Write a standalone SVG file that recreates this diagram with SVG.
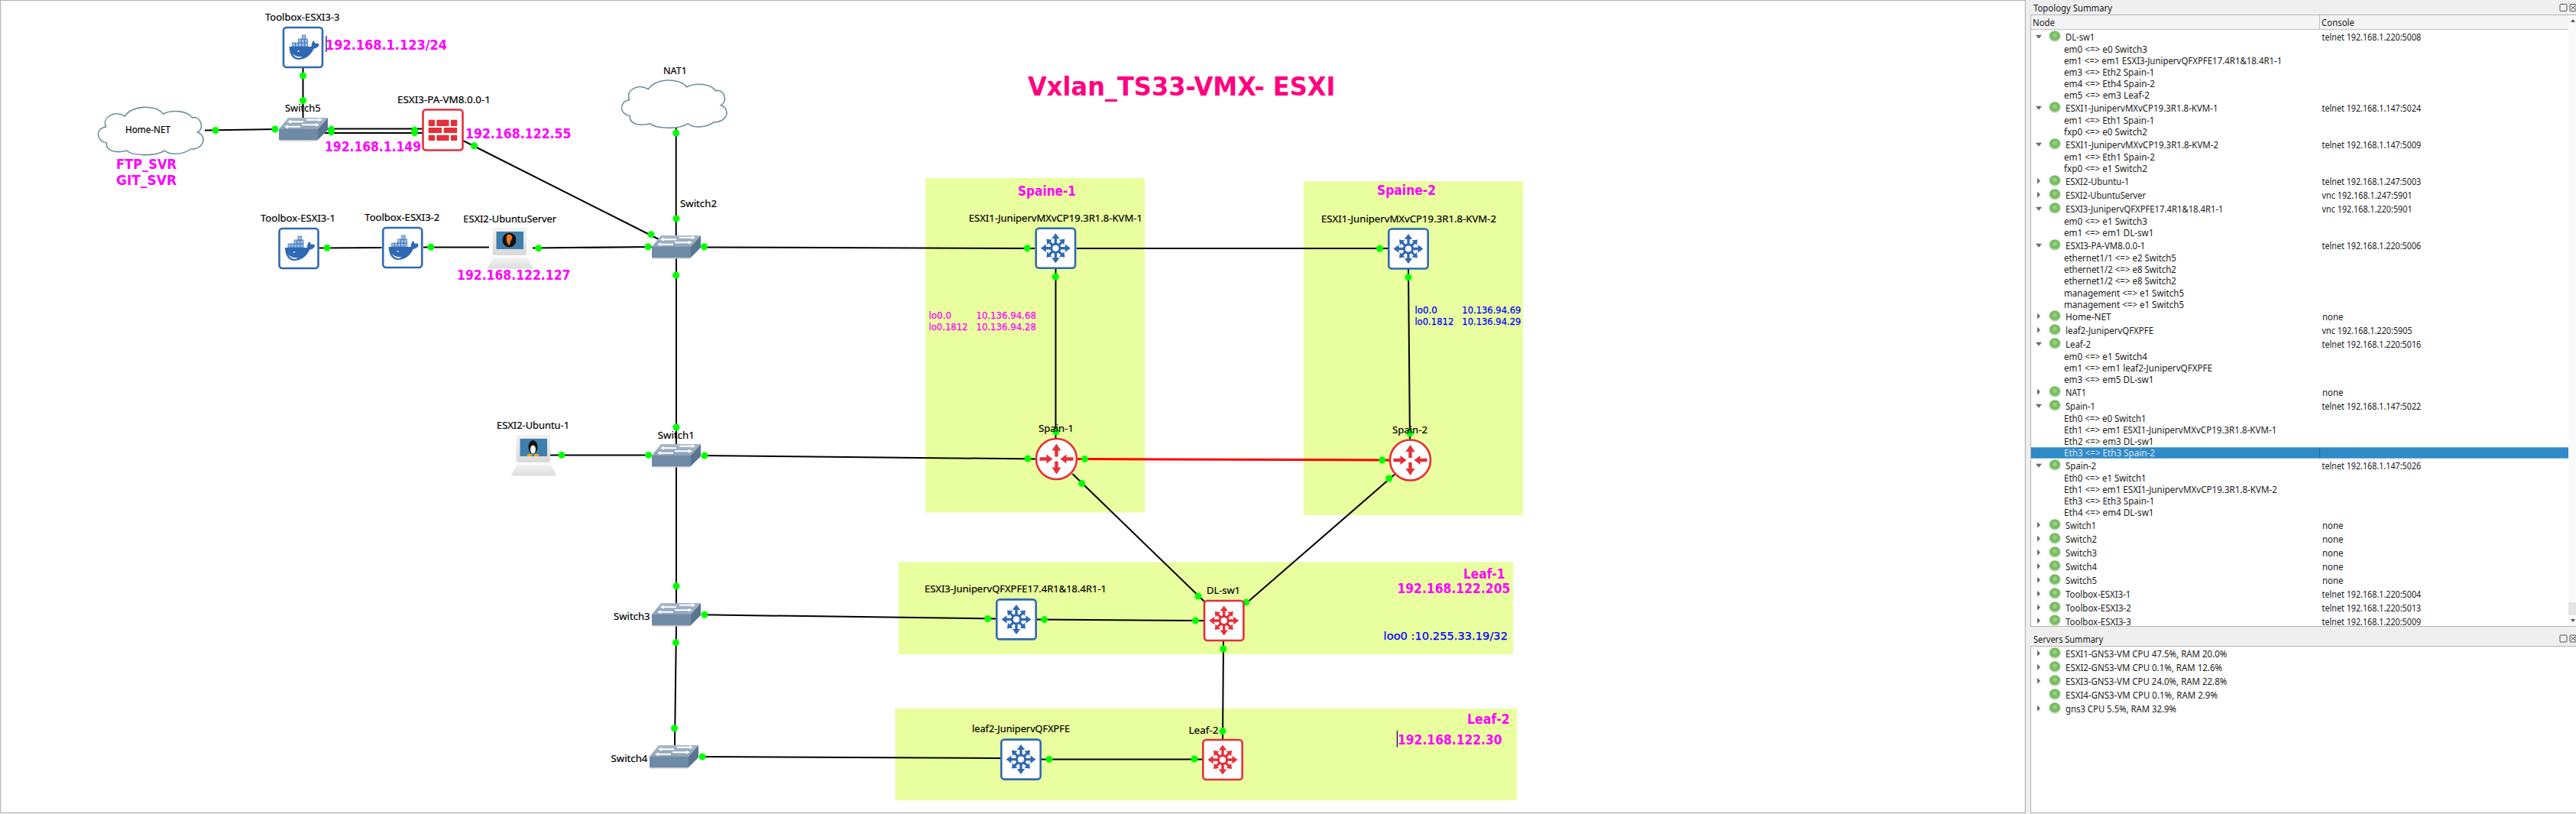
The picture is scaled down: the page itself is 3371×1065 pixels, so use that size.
<svg xmlns="http://www.w3.org/2000/svg" width="3371" height="1065" viewBox="0 0 3371 1065">
<style>
text{white-space:pre}
.n{font:13px "Noto Sans","Liberation Sans",sans-serif;fill:#000;stroke:#000;stroke-width:.2}
.m{font:bold 17px "DejaVu Sans","Liberation Sans",sans-serif;fill:#f0f}
.lo{font:12.5px "DejaVu Sans","Liberation Sans",sans-serif;stroke:currentColor;stroke-width:.25}
.t{font:12.5px "Noto Sans","Open Sans",sans-serif;fill:#1a1a1a}
.zone{fill:#e9fe9f}
.lk{stroke:#000;stroke-width:2;fill:none}
.dot{fill:#0f0}
.blue{color:#2f69b4}
.red{color:#e4303a}
.box{fill:#fff;stroke:currentColor;stroke-width:2.6}
.cl{fill:#fff;stroke:#6f9098;stroke-width:1.6}
.pan{fill:#fff;stroke:#b4b4b4;stroke-width:1}
</style>
<defs>
<linearGradient id="mon" x1="0" y1="0" x2="0" y2="1"><stop offset="0" stop-color="#f2f2f2"/><stop offset="1" stop-color="#d9d9d9"/></linearGradient>
<linearGradient id="top" x1="0" y1="0" x2="0" y2="1"><stop offset="0" stop-color="#a9b9ca"/><stop offset="1" stop-color="#8ca2b8"/></linearGradient>
<radialGradient id="ledg" cx="50%" cy="40%" r="55%"><stop offset="0" stop-color="#a8d88c"/><stop offset=".6" stop-color="#6fb85a"/><stop offset=".8" stop-color="#8cc47c"/><stop offset="1" stop-color="#dfe8dc"/></radialGradient>
<path id="arm" d="M-1.7-6V-12.5H-5.2L0-19.5 5.2-12.5H1.7V-6Z" fill="currentColor"/>
<path id="armd" d="M-1.6-6V-11H-4.6L0-17 4.6-11H1.6V-6Z" fill="currentColor"/>
<g id="mls">
<rect class="box" x="-25.7" y="-26" width="51.4" height="52" rx="4"/>
<circle r="5.6" fill="none" stroke="currentColor" stroke-width="3"/>
<use href="#arm"/><use href="#arm" transform="rotate(90)"/><use href="#arm" transform="rotate(180)"/><use href="#arm" transform="rotate(270)"/>
<use href="#armd" transform="rotate(45)"/><use href="#armd" transform="rotate(135)"/><use href="#armd" transform="rotate(225)"/><use href="#armd" transform="rotate(315)"/>
</g>
<g id="router">
<circle class="box" r="26.5"/>
<path fill="currentColor" d="M-2.2-3V-11H-6L0-20 6-11H2.2V-3ZM-2.2 3V11H-6L0 20 6 11H2.2V3ZM-22-2.2H-13V-6L-5 0-13 6V2.2H-22ZM22-2.2H13V-6L5 0 13 6V2.2H22Z"/>
</g>
<g id="docker">
<rect class="box" x="-25.5" y="-26" width="51" height="52" rx="4"/>
<g fill="#9dbce0" stroke="currentColor" stroke-width=".7">
<rect x="-14" y="-6" width="4" height="5"/><rect x="-10" y="-6" width="4" height="5"/><rect x="-6" y="-6" width="4" height="5"/><rect x="-2" y="-6" width="4" height="5"/><rect x="2" y="-6" width="4" height="5"/>
<rect x="-6" y="-11" width="4" height="5"/><rect x="-2" y="-11" width="4" height="5"/><rect x="2" y="-11" width="4" height="5"/>
<rect x="-1" y="-16" width="4.5" height="5"/>
</g>
<path fill="currentColor" d="M-18-1H11C11-5 13-9 14-9 15-7 16-5 17-5 19-6 21-5 21-3 20 0 17 1 14 2 10 11 2 16-6 16-14 16-18 8-18-1Z"/>
<path fill="#fff" d="M-14 8C-11 11-7 13-1 12-4 15-10 15-14 8Z"/>
<circle cx="-6" cy="5" r="1" fill="#fff"/>
</g>
<g id="switch">
<path d="M-32 1-20-14H32L19 1Z" fill="url(#top)"/>
<path d="M-32 1H19V15H-32Z" fill="#6f8aa5"/>
<path d="M19 1 32-14V2L19 15Z" fill="#5a7590"/>
<path d="M-32 15H19L18 16.500H-31Z" fill="#c4c4c4"/>
<path fill="#fff" d="M0-9.700H-16V-11.200L-21-8.700-16-6.200V-7.700H0ZM4-12.300H20V-13.800L25-11.300 20-8.800V-10.300H4ZM-4-3.200H-20V-4.700L-25-2.200-20 .3V-1.200H-4ZM-2-5.700H16V-7.200L21-4.700 16-2.200V-3.700H-2Z"/>
</g>
<path id="cloud" class="cl" d="M12 46C-2 44-3 27 11 25 6 12 22 3 36 11 44-3 76-5 86 8 98 2 118 4 124 13 136 10 140 28 131 32 145 38 138 55 122 54 112 62 94 62 88 56 76 64 46 63 38 56 24 60 10 56 12 46Z"/>
<g id="pc">
<path d="M-22 11.500H22.500L30 26.500H-30Z" fill="url(#mon)" opacity=".9"/>
<rect x="-23" y="-27" width="44.500" height="36" rx="3" fill="url(#mon)"/>
<rect x="-18" y="-22" width="35.500" height="23" fill="#3f7fae"/>
</g>
<g id="led"><ellipse rx="7.600" ry="7.400" fill="url(#ledg)"/></g>
<path id="open" d="M-4-2H4L0 3Z" fill="#6a6a6a"/>
<path id="closed" d="M-2-4 2 0-2 4Z" fill="#6a6a6a"/>
</defs>

<rect width="3371" height="1065" fill="#fff"/>
<g id="canvas">
<path d="M0 .5H2650.500V1063.500H.5V.5" fill="none" stroke="#b8b8b8" stroke-width="1.500"/>
</g>

<g id="zones">
<rect class="zone" x="1211" y="233" width="287" height="437.500"/>
<rect class="zone" x="1706" y="237" width="287" height="437"/>
<rect class="zone" x="1176" y="735.500" width="804" height="120.500"/>
<rect class="zone" x="1171.500" y="927" width="813.500" height="120"/>
</g>

<g id="connectors">
<path class="lk" d="M268 170.500 364 169"/>
<path class="lk" d="M396.500 89V160"/>
<path class="lk" d="M425 168.500H553M425 174H553"/>
<path class="lk" d="M606 184 862 313"/>
<path class="lk" d="M884.700 167V310"/>
<path class="lk" d="M418 324.500 499.500 324"/>
<path class="lk" d="M554 323.500H640"/>
<path class="lk" d="M697 324.500 853 323"/>
<path class="lk" d="M885 337V581"/>
<path class="lk" d="M918 323.500 1354 325"/>
<path class="lk" d="M1409 325H1816"/>
<path class="lk" d="M1381.500 352V574"/>
<path class="lk" d="M1843 352 1845 576"/>
<path class="lk" d="M720 595.400H853"/>
<path class="lk" d="M918 596 1355 600.500"/>
<path d="M1410 600.500 1818 602" stroke="#f00" stroke-width="3" fill="none"/>
<path class="lk" d="M885 610V789"/>
<path class="lk" d="M885 818 883 975"/>
<path class="lk" d="M918 804.300 1303 809.500"/>
<path class="lk" d="M1357 810.500 1575 812"/>
<path class="lk" d="M915.500 990 1309 992"/>
<path class="lk" d="M1363 993.400 1573 993.500"/>
<path class="lk" d="M1403.500 620 1576 787"/>
<path class="lk" d="M1825 620.800 1630 790"/>
<path class="lk" d="M1601 839 1600 967"/>
<g class="dot">
<circle cx="282" cy="170.500" r="4.500"/><circle cx="360" cy="169" r="4.500"/>
<circle cx="396.500" cy="99" r="4.500"/><circle cx="396.500" cy="131.500" r="4.500"/>
<ellipse cx="433.600" cy="171" rx="4.500" ry="6.500"/><ellipse cx="542.500" cy="172" rx="4.500" ry="6.500"/>
<circle cx="620.500" cy="190.700" r="4.500"/><circle cx="852" cy="306.700" r="4.500"/>
<circle cx="884.700" cy="174" r="4.500"/><circle cx="885" cy="286" r="4.500"/>
<circle cx="848" cy="322.700" r="4.500"/><circle cx="921.500" cy="322.700" r="4.500"/><circle cx="884.700" cy="360" r="4.500"/>
<circle cx="428" cy="324.300" r="4.500"/><circle cx="563.800" cy="323.300" r="4.500"/><circle cx="704.700" cy="324.700" r="4.500"/>
<circle cx="885" cy="559" r="4.500"/><circle cx="735" cy="595.400" r="4.500"/><circle cx="848.700" cy="595.400" r="4.500"/><circle cx="922" cy="596" r="4.500"/>
<circle cx="1345" cy="600" r="4.500"/><circle cx="1382" cy="565" r="4.500"/><circle cx="1419.500" cy="600.600" r="4.500"/><circle cx="1415.700" cy="632.600" r="4.500"/>
<circle cx="1808.700" cy="602" r="4.500"/><circle cx="1845" cy="567" r="4.500"/><circle cx="1817.600" cy="626" r="4.500"/>
<circle cx="1344.300" cy="324.700" r="4.500"/><circle cx="1381.300" cy="362" r="4.500"/>
<circle cx="1805.500" cy="325.300" r="4.500"/><circle cx="1843" cy="362.700" r="4.500"/>
<circle cx="885" cy="766.800" r="4.500"/><circle cx="922" cy="804.300" r="4.500"/><circle cx="884.400" cy="840.800" r="4.500"/>
<circle cx="1292.600" cy="809.500" r="4.500"/><circle cx="1366.600" cy="810.600" r="4.500"/>
<circle cx="1564.400" cy="812" r="4.500"/><circle cx="1568" cy="780" r="4.500"/><circle cx="1630.700" cy="788" r="4.500"/><circle cx="1600.800" cy="849" r="4.500"/>
<circle cx="882.500" cy="952.700" r="4.500"/><circle cx="919" cy="990" r="4.500"/>
<circle cx="1373" cy="993.400" r="4.500"/><circle cx="1563" cy="993" r="4.500"/><circle cx="1600" cy="956.600" r="4.500"/>
</g>
</g>

<g id="node-home-net"><use href="#cloud" transform="translate(127.500 141)"/><text class="n" x="164" y="173.500" textLength="59" lengthAdjust="spacingAndGlyphs">Home-NET</text></g>
<g id="node-nat1"><use href="#cloud" transform="translate(812.500 105.700)"/><text class="n" x="868" y="97.200" textLength="31" lengthAdjust="spacingAndGlyphs">NAT1</text></g>
<g id="node-toolbox3" class="blue"><use href="#docker" x="396.500" y="62"/><text class="n" x="347" y="27.200" textLength="97.500" lengthAdjust="spacingAndGlyphs">Toolbox-ESXI3-3</text></g>
<g id="node-switch5"><use href="#switch" x="397" y="168"/><text class="n" x="373" y="146.200" textLength="46.600" lengthAdjust="spacingAndGlyphs">Switch5</text></g>
<g id="node-pa" class="red"><rect class="box" x="553.500" y="143.500" width="52" height="53" rx="4"/>
<path fill="currentColor" d="M560.700 156.700H569V165H560.700ZM571.400 156.700H587.500V165H571.400ZM590 156.700H598.200V165H590ZM560.700 167H578V174H560.700ZM580.700 167H598.200V174H580.700ZM560.700 176.700H569V184H560.700ZM571.400 176.700H587.500V184H571.400ZM590 176.700H598.200V184H590Z"/>
<text class="n" x="520" y="135.200" textLength="122" lengthAdjust="spacingAndGlyphs">ESXI3-PA-VM8.0.0-1</text></g>
<g id="node-toolbox1" class="blue"><use href="#docker" x="391" y="325"/><text class="n" x="341" y="289.800" textLength="98" lengthAdjust="spacingAndGlyphs">Toolbox-ESXI3-1</text></g>
<g id="node-toolbox2" class="blue"><use href="#docker" x="526.700" y="324"/><text class="n" x="477.300" y="288.800" textLength="98" lengthAdjust="spacingAndGlyphs">Toolbox-ESXI3-2</text></g>
<g id="node-ubuntuserver"><use href="#pc" x="667.500" y="325"/>
<ellipse cx="666.500" cy="314" rx="9" ry="9.500" fill="#111"/><path d="M664 307C670 306 672 311 669 314 667 317 668 320 666 321 662 316 662 311 664 307Z" fill="#f07a1e"/>
<text class="n" x="606.300" y="290.800" textLength="121.700" lengthAdjust="spacingAndGlyphs">ESXI2-UbuntuServer</text></g>
<g id="node-switch2"><use href="#switch" x="885" y="322"/><text class="n" x="890" y="271.200" textLength="48" lengthAdjust="spacingAndGlyphs">Switch2</text></g>
<g id="node-ubuntu1"><use href="#pc" x="698.500" y="596"/>
<ellipse cx="697.500" cy="585" rx="6" ry="9" fill="#111"/><ellipse cx="697.500" cy="588" rx="3.500" ry="5.500" fill="#fff"/><path d="M690 594H696V597H690ZM699 594H705V597H699Z" fill="#f5a810"/>
<text class="n" x="650" y="561" textLength="95" lengthAdjust="spacingAndGlyphs">ESXI2-Ubuntu-1</text></g>
<g id="node-switch1"><use href="#switch" x="885" y="595"/><text class="n" x="860.800" y="574.200" textLength="47.900" lengthAdjust="spacingAndGlyphs">Switch1</text></g>
<g id="node-switch3"><use href="#switch" x="885" y="803"/><text class="n" x="803" y="810.900" textLength="47.600" lengthAdjust="spacingAndGlyphs">Switch3</text></g>
<g id="node-switch4"><use href="#switch" x="882" y="989"/><text class="n" x="799.600" y="996.500" textLength="47.800" lengthAdjust="spacingAndGlyphs">Switch4</text></g>
<g id="node-kvm1" class="blue"><use href="#mls" x="1381.400" y="324.800"/><text class="n" x="1267.700" y="290.200" textLength="227.300" lengthAdjust="spacingAndGlyphs">ESXI1-JunipervMXvCP19.3R1.8-KVM-1</text></g>
<g id="node-kvm2" class="blue"><use href="#mls" x="1843" y="325.500"/><text class="n" x="1729" y="291.200" textLength="229" lengthAdjust="spacingAndGlyphs">ESXI1-JunipervMXvCP19.3R1.8-KVM-2</text></g>
<g id="node-spain1" class="red"><use href="#router" x="1382.500" y="600.500"/><text class="n" x="1359" y="565.200" textLength="46" lengthAdjust="spacingAndGlyphs">Spain-1</text></g>
<g id="node-spain2" class="red"><use href="#router" x="1845.500" y="602"/><text class="n" x="1822" y="566.900" textLength="46" lengthAdjust="spacingAndGlyphs">Spain-2</text></g>
<g id="node-qfx" class="blue"><use href="#mls" x="1330" y="810.400"/><text class="n" x="1210" y="775.100" textLength="238" lengthAdjust="spacingAndGlyphs">ESXI3-JunipervQFXPFE17.4R1&amp;18.4R1-1</text></g>
<g id="node-dlsw1" class="red"><use href="#mls" x="1601.700" y="812"/><text class="n" x="1579" y="777.200" textLength="44" lengthAdjust="spacingAndGlyphs">DL-sw1</text></g>
<g id="node-leaf2qfx" class="blue"><use href="#mls" x="1336" y="993.600"/><text class="n" x="1272" y="958.300" textLength="128" lengthAdjust="spacingAndGlyphs">leaf2-JunipervQFXPFE</text></g>
<g id="node-leaf2" class="red"><use href="#mls" x="1600" y="994"/><text class="n" x="1555.500" y="960" textLength="39" lengthAdjust="spacingAndGlyphs">Leaf-2</text></g>

<g id="notes">
<text x="1345" y="125" textLength="402.500" lengthAdjust="spacingAndGlyphs" style="font:bold 34px 'DejaVu Sans','Liberation Sans',sans-serif;fill:#ff0080">Vxlan_TS33-VMX- ESXI</text>
<path d="M427 47V68M1828.400 956V977.800" stroke="#000060" stroke-width="1.200"/>
<text class="m" x="426" y="65" textLength="159" lengthAdjust="spacingAndGlyphs">192.168.1.123/24</text>
<text class="m" x="609" y="181" textLength="138.500" lengthAdjust="spacingAndGlyphs">192.168.122.55</text>
<text class="m" x="425" y="198" textLength="126" lengthAdjust="spacingAndGlyphs">192.168.1.149</text>
<text class="m" x="152" y="221" textLength="79" lengthAdjust="spacingAndGlyphs">FTP_SVR</text>
<text class="m" x="152" y="242" textLength="79" lengthAdjust="spacingAndGlyphs">GIT_SVR</text>
<text class="m" x="598" y="366.300" textLength="148.400" lengthAdjust="spacingAndGlyphs">192.168.122.127</text>
<text class="m" x="1332" y="256" textLength="76" lengthAdjust="spacingAndGlyphs">Spaine-1</text>
<text class="m" x="1802" y="255.300" textLength="77" lengthAdjust="spacingAndGlyphs">Spaine-2</text>
<text class="m" x="1915" y="756.500" textLength="54.400" lengthAdjust="spacingAndGlyphs">Leaf-1</text>
<text class="m" x="1828.400" y="775.600" textLength="148" lengthAdjust="spacingAndGlyphs">192.168.122.205</text>
<text class="m" x="1920" y="946.600" textLength="55.800" lengthAdjust="spacingAndGlyphs">Leaf-2</text>
<text class="m" x="1829" y="973.700" textLength="136.600" lengthAdjust="spacingAndGlyphs">192.168.122.30</text>
<g fill="#f0f" color="#f0f">
<text class="lo" x="1215.500" y="417" textLength="29.500" lengthAdjust="spacingAndGlyphs">lo0.0</text>
<text class="lo" x="1277.400" y="417" textLength="78.600" lengthAdjust="spacingAndGlyphs">10.136.94.68</text>
<text class="lo" x="1215.500" y="432" textLength="51" lengthAdjust="spacingAndGlyphs">lo0.1812</text>
<text class="lo" x="1277.400" y="432" textLength="78.600" lengthAdjust="spacingAndGlyphs">10.136.94.28</text>
</g>
<g fill="#00f" color="#00f">
<text class="lo" x="1851.400" y="410" textLength="29.500" lengthAdjust="spacingAndGlyphs">lo0.0</text>
<text class="lo" x="1913.300" y="410" textLength="77.100" lengthAdjust="spacingAndGlyphs">10.136.94.69</text>
<text class="lo" x="1851.400" y="425" textLength="51" lengthAdjust="spacingAndGlyphs">lo0.1812</text>
<text class="lo" x="1913.300" y="425" textLength="77.100" lengthAdjust="spacingAndGlyphs">10.136.94.29</text>
<text class="lo" x="1810.600" y="837" textLength="162.400" lengthAdjust="spacingAndGlyphs" style="font-size:14px">loo0 :10.255.33.19/32</text>
</g>
</g>

<g id="panel">
<rect x="2651" y="0" width="720" height="1065" fill="#efefef"/>
<rect class="pan" x="2657.500" y="19.500" width="714" height="800"/>
<rect class="pan" x="2657.500" y="845.500" width="714" height="218"/>
<rect x="2658" y="20" width="703" height="18" fill="#f4f4f4"/>
<path d="M2658 38.500H3361M3035.500 20V38" stroke="#c0c0c0" fill="none"/>
<rect x="3361" y="20" width="10" height="799" fill="#fafafa"/>
<rect x="3361" y="788" width="10" height="17" fill="#e4e4e4"/>
<path d="M3364 29H3370L3367 25ZM3364 810H3370L3367 814Z" fill="#555"/>
<g fill="none" stroke="#555"><rect x="3350" y="5.500" width="9" height="9" rx="1"/><rect x="3363" y="5.500" width="8" height="9" rx="1"/><path d="M3364.500 7.500 3370 12.500M3370 7.500 3364.500 12.500"/></g>
<g fill="none" stroke="#555"><rect x="3350" y="831" width="9" height="9" rx="1"/><rect x="3363" y="831" width="8" height="9" rx="1"/><path d="M3364.500 833 3370 838M3370 833 3364.500 838"/></g>
<rect x="2658" y="585.300" width="703" height="14.400" fill="#2f8ac8"/>
<path d="M3035.500 585.500V599.500" stroke="#1f6ea8"/>
<text class="t" x="2661" y="14.500" textLength="103" lengthAdjust="spacingAndGlyphs">Topology Summary</text>
<text class="t" x="2660" y="34" textLength="29" lengthAdjust="spacingAndGlyphs">Node</text>
<text class="t" x="3038" y="34" textLength="43" lengthAdjust="spacingAndGlyphs">Console</text>
<text class="t" x="2661" y="840.500" textLength="91" lengthAdjust="spacingAndGlyphs">Servers Summary</text>

<g id="leds">
<use href="#led" x="2689" y="47.700"/><use href="#led" x="2689" y="140.700"/><use href="#led" x="2689" y="188.700"/><use href="#led" x="2689" y="236.700"/><use href="#led" x="2689" y="254.700"/><use href="#led" x="2689" y="272.700"/><use href="#led" x="2689" y="320.700"/><use href="#led" x="2689" y="413.700"/><use href="#led" x="2689" y="431.700"/><use href="#led" x="2689" y="449.700"/><use href="#led" x="2689" y="512.700"/><use href="#led" x="2689" y="530.700"/><use href="#led" x="2689" y="608.700"/><use href="#led" x="2689" y="686.700"/><use href="#led" x="2689" y="704.700"/><use href="#led" x="2689" y="722.700"/><use href="#led" x="2689" y="740.700"/><use href="#led" x="2689" y="758.700"/><use href="#led" x="2689" y="776.700"/><use href="#led" x="2689" y="794.700"/><use href="#led" x="2689" y="812"/>
<use href="#led" x="2689" y="854.700"/><use href="#led" x="2689" y="872.700"/><use href="#led" x="2689" y="890.700"/><use href="#led" x="2689" y="908.700"/><use href="#led" x="2689" y="926.700"/>
</g>
<g id="toggles">
<use href="#open" x="2668" y="47.700"/><use href="#open" x="2668" y="140.700"/><use href="#open" x="2668" y="188.700"/><use href="#closed" x="2668" y="236.700"/><use href="#closed" x="2668" y="254.700"/><use href="#open" x="2668" y="272.700"/><use href="#open" x="2668" y="320.700"/><use href="#closed" x="2668" y="413.700"/><use href="#closed" x="2668" y="431.700"/><use href="#open" x="2668" y="449.700"/><use href="#closed" x="2668" y="512.700"/><use href="#open" x="2668" y="530.700"/><use href="#open" x="2668" y="608.700"/><use href="#closed" x="2668" y="686.700"/><use href="#closed" x="2668" y="704.700"/><use href="#closed" x="2668" y="722.700"/><use href="#closed" x="2668" y="740.700"/><use href="#closed" x="2668" y="758.700"/><use href="#closed" x="2668" y="776.700"/><use href="#closed" x="2668" y="794.700"/><use href="#closed" x="2668" y="812"/>
<use href="#closed" x="2668" y="854.700"/><use href="#closed" x="2668" y="872.700"/><use href="#closed" x="2668" y="890.700"/><use href="#closed" x="2668" y="926.700"/>
</g>
<g id="tree">
<text class="t" x="2703" y="53.200" textLength="38.200" lengthAdjust="spacingAndGlyphs">DL-sw1</text>
<text class="t" x="2701" y="69.200" textLength="109" lengthAdjust="spacingAndGlyphs">em0 &lt;=&gt; e0 Switch3</text>
<text class="t" x="2701" y="84.200" textLength="285.300" lengthAdjust="spacingAndGlyphs">em1 &lt;=&gt; em1 ESXI3-JunipervQFXPFE17.4R1&amp;18.4R1-1</text>
<text class="t" x="2701" y="99.200" textLength="118.400" lengthAdjust="spacingAndGlyphs">em3 &lt;=&gt; Eth2 Spain-1</text>
<text class="t" x="2701" y="114.200" textLength="118.900" lengthAdjust="spacingAndGlyphs">em4 &lt;=&gt; Eth4 Spain-2</text>
<text class="t" x="2701" y="129.200" textLength="112" lengthAdjust="spacingAndGlyphs">em5 &lt;=&gt; em3 Leaf-2</text>
<text class="t" x="2703" y="146.200" textLength="199.500" lengthAdjust="spacingAndGlyphs">ESXI1-JunipervMXvCP19.3R1.8-KVM-1</text>
<text class="t" x="2701" y="162.200" textLength="118.400" lengthAdjust="spacingAndGlyphs">em1 &lt;=&gt; Eth1 Spain-1</text>
<text class="t" x="2701" y="177.200" textLength="109" lengthAdjust="spacingAndGlyphs">fxp0 &lt;=&gt; e0 Switch2</text>
<text class="t" x="2703" y="194.200" textLength="200" lengthAdjust="spacingAndGlyphs">ESXI1-JunipervMXvCP19.3R1.8-KVM-2</text>
<text class="t" x="2701" y="210.200" textLength="118.900" lengthAdjust="spacingAndGlyphs">em1 &lt;=&gt; Eth1 Spain-2</text>
<text class="t" x="2701" y="225.200" textLength="109" lengthAdjust="spacingAndGlyphs">fxp0 &lt;=&gt; e1 Switch2</text>
<text class="t" x="2703" y="242.200" textLength="83.400" lengthAdjust="spacingAndGlyphs">ESXI2-Ubuntu-1</text>
<text class="t" x="2703" y="260.200" textLength="105" lengthAdjust="spacingAndGlyphs">ESXI2-UbuntuServer</text>
<text class="t" x="2703" y="278.200" textLength="206.500" lengthAdjust="spacingAndGlyphs">ESXI3-JunipervQFXPFE17.4R1&amp;18.4R1-1</text>
<text class="t" x="2701" y="294.200" textLength="109" lengthAdjust="spacingAndGlyphs">em0 &lt;=&gt; e1 Switch3</text>
<text class="t" x="2701" y="309.200" textLength="117.500" lengthAdjust="spacingAndGlyphs">em1 &lt;=&gt; em1 DL-sw1</text>
<text class="t" x="2703" y="326.200" textLength="104.400" lengthAdjust="spacingAndGlyphs">ESXI3-PA-VM8.0.0-1</text>
<text class="t" x="2701" y="342.200" textLength="146.900" lengthAdjust="spacingAndGlyphs">ethernet1/1 &lt;=&gt; e2 Switch5</text>
<text class="t" x="2701" y="357.200" textLength="146.900" lengthAdjust="spacingAndGlyphs">ethernet1/2 &lt;=&gt; e8 Switch2</text>
<text class="t" x="2701" y="372.200" textLength="146.900" lengthAdjust="spacingAndGlyphs">ethernet1/2 &lt;=&gt; e8 Switch2</text>
<text class="t" x="2701" y="387.500" textLength="157" lengthAdjust="spacingAndGlyphs">management &lt;=&gt; e1 Switch5</text>
<text class="t" x="2701" y="402.500" textLength="157" lengthAdjust="spacingAndGlyphs">management &lt;=&gt; e1 Switch5</text>
<text class="t" x="2703" y="419.200" textLength="59.700" lengthAdjust="spacingAndGlyphs">Home-NET</text>
<text class="t" x="2703" y="437.200" textLength="115" lengthAdjust="spacingAndGlyphs">leaf2-JunipervQFXPFE</text>
<text class="t" x="2703" y="455.200" textLength="33" lengthAdjust="spacingAndGlyphs">Leaf-2</text>
<text class="t" x="2701" y="471.200" textLength="109" lengthAdjust="spacingAndGlyphs">em0 &lt;=&gt; e1 Switch4</text>
<text class="t" x="2701" y="486.200" textLength="194" lengthAdjust="spacingAndGlyphs">em1 &lt;=&gt; em1 leaf2-JunipervQFXPFE</text>
<text class="t" x="2701" y="501.200" textLength="117.500" lengthAdjust="spacingAndGlyphs">em3 &lt;=&gt; em5 DL-sw1</text>
<text class="t" x="2703" y="518.200" textLength="27" lengthAdjust="spacingAndGlyphs">NAT1</text>
<text class="t" x="2703" y="536.200" textLength="39" lengthAdjust="spacingAndGlyphs">Spain-1</text>
<text class="t" x="2701" y="552.200" textLength="107.700" lengthAdjust="spacingAndGlyphs">Eth0 &lt;=&gt; e0 Switch1</text>
<text class="t" x="2701" y="567.200" textLength="278.300" lengthAdjust="spacingAndGlyphs">Eth1 &lt;=&gt; em1 ESXI1-JunipervMXvCP19.3R1.8-KVM-1</text>
<text class="t" x="2701" y="582.200" textLength="117.500" lengthAdjust="spacingAndGlyphs">Eth2 &lt;=&gt; em3 DL-sw1</text>
<text class="t" x="2701" y="597.200" textLength="118.900" lengthAdjust="spacingAndGlyphs" style="fill:#dce8f2">Eth3 &lt;=&gt; Eth3 Spain-2</text>
<text class="t" x="2703" y="614.200" textLength="40" lengthAdjust="spacingAndGlyphs">Spain-2</text>
<text class="t" x="2701" y="630.200" textLength="107.700" lengthAdjust="spacingAndGlyphs">Eth0 &lt;=&gt; e1 Switch1</text>
<text class="t" x="2701" y="645.200" textLength="278.800" lengthAdjust="spacingAndGlyphs">Eth1 &lt;=&gt; em1 ESXI1-JunipervMXvCP19.3R1.8-KVM-2</text>
<text class="t" x="2701" y="660.200" textLength="118.400" lengthAdjust="spacingAndGlyphs">Eth3 &lt;=&gt; Eth3 Spain-1</text>
<text class="t" x="2701" y="675.200" textLength="117.500" lengthAdjust="spacingAndGlyphs">Eth4 &lt;=&gt; em4 DL-sw1</text>
<text class="t" x="2703" y="692.200" textLength="40" lengthAdjust="spacingAndGlyphs">Switch1</text>
<text class="t" x="2703" y="710.200" textLength="41" lengthAdjust="spacingAndGlyphs">Switch2</text>
<text class="t" x="2703" y="728.200" textLength="41" lengthAdjust="spacingAndGlyphs">Switch3</text>
<text class="t" x="2703" y="746.200" textLength="41" lengthAdjust="spacingAndGlyphs">Switch4</text>
<text class="t" x="2703" y="764.200" textLength="41" lengthAdjust="spacingAndGlyphs">Switch5</text>
<text class="t" x="2703" y="782.200" textLength="85.300" lengthAdjust="spacingAndGlyphs">Toolbox-ESXI3-1</text>
<text class="t" x="2703" y="800.200" textLength="85.800" lengthAdjust="spacingAndGlyphs">Toolbox-ESXI3-2</text>
<text class="t" x="2703" y="818.200" textLength="85.800" lengthAdjust="spacingAndGlyphs">Toolbox-ESXI3-3</text>
</g>
<g id="console">
<text class="t" x="3038.600" y="53.200" textLength="129.600" lengthAdjust="spacingAndGlyphs">telnet 192.168.1.220:5008</text>
<text class="t" x="3038.600" y="146.200" textLength="129.600" lengthAdjust="spacingAndGlyphs">telnet 192.168.1.147:5024</text>
<text class="t" x="3038.600" y="194.200" textLength="129.600" lengthAdjust="spacingAndGlyphs">telnet 192.168.1.147:5009</text>
<text class="t" x="3038.600" y="242.200" textLength="129.600" lengthAdjust="spacingAndGlyphs">telnet 192.168.1.247:5003</text>
<text class="t" x="3038.600" y="260.200" textLength="118" lengthAdjust="spacingAndGlyphs">vnc 192.168.1.247:5901</text>
<text class="t" x="3038.600" y="278.200" textLength="118" lengthAdjust="spacingAndGlyphs">vnc 192.168.1.220:5901</text>
<text class="t" x="3038.600" y="326.200" textLength="129.600" lengthAdjust="spacingAndGlyphs">telnet 192.168.1.220:5006</text>
<text class="t" x="3039" y="419.200" textLength="27.500" lengthAdjust="spacingAndGlyphs">none</text>
<text class="t" x="3038.600" y="437.200" textLength="118" lengthAdjust="spacingAndGlyphs">vnc 192.168.1.220:5905</text>
<text class="t" x="3038.600" y="455.200" textLength="129.600" lengthAdjust="spacingAndGlyphs">telnet 192.168.1.220:5016</text>
<text class="t" x="3039" y="518.200" textLength="27.500" lengthAdjust="spacingAndGlyphs">none</text>
<text class="t" x="3038.600" y="536.200" textLength="129.600" lengthAdjust="spacingAndGlyphs">telnet 192.168.1.147:5022</text>
<text class="t" x="3038.600" y="614.200" textLength="129.600" lengthAdjust="spacingAndGlyphs">telnet 192.168.1.147:5026</text>
<text class="t" x="3039" y="692.200" textLength="27.500" lengthAdjust="spacingAndGlyphs">none</text>
<text class="t" x="3039" y="710.200" textLength="27.500" lengthAdjust="spacingAndGlyphs">none</text>
<text class="t" x="3039" y="728.200" textLength="27.500" lengthAdjust="spacingAndGlyphs">none</text>
<text class="t" x="3039" y="746.200" textLength="27.500" lengthAdjust="spacingAndGlyphs">none</text>
<text class="t" x="3039" y="764.200" textLength="27.500" lengthAdjust="spacingAndGlyphs">none</text>
<text class="t" x="3038.600" y="782.200" textLength="129.600" lengthAdjust="spacingAndGlyphs">telnet 192.168.1.220:5004</text>
<text class="t" x="3038.600" y="800.200" textLength="129.600" lengthAdjust="spacingAndGlyphs">telnet 192.168.1.220:5013</text>
<text class="t" x="3038.600" y="818.200" textLength="129.600" lengthAdjust="spacingAndGlyphs">telnet 192.168.1.220:5009</text>
</g>
<g id="servers">
<text class="t" x="2703" y="860.200" textLength="211.200" lengthAdjust="spacingAndGlyphs">ESXI1-GNS3-VM CPU 47.5%, RAM 20.0%</text>
<text class="t" x="2703" y="878.200" textLength="205" lengthAdjust="spacingAndGlyphs">ESXI2-GNS3-VM CPU 0.1%, RAM 12.6%</text>
<text class="t" x="2703" y="896.200" textLength="211.200" lengthAdjust="spacingAndGlyphs">ESXI3-GNS3-VM CPU 24.0%, RAM 22.8%</text>
<text class="t" x="2703" y="914.200" textLength="199" lengthAdjust="spacingAndGlyphs">ESXI4-GNS3-VM CPU 0.1%, RAM 2.9%</text>
<text class="t" x="2703" y="932.200" textLength="145" lengthAdjust="spacingAndGlyphs">gns3 CPU 5.5%, RAM 32.9%</text>
</g>
</g>
</svg>
